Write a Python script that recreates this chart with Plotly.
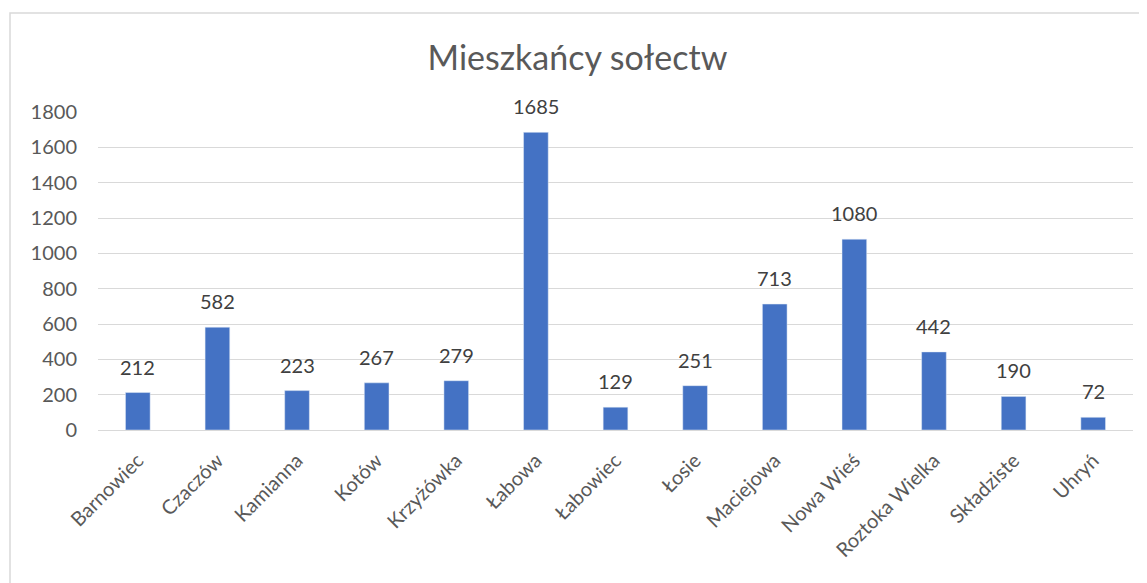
import plotly.graph_objects as go

categories = ["Barnowiec", "Czaczów", "Kamianna", "Kotów", "Krzyżówka", "Łabowa",
              "Łabowiec", "Łosie", "Maciejowa", "Nowa Wieś", "Roztoka Wielka",
              "Składziste", "Uhryń"]
values = [212, 582, 223, 267, 279, 1685, 129, 251, 713, 1080, 442, 190, 72]
y_ticks = [0, 200, 400, 600, 800, 1000, 1200, 1400, 1600, 1800]

OFF = 8  # page body margin
W, H = 1147 - OFF, 583 - OFF
L, R, T, B = 98 - OFF, 1133 - OFF, 112 - OFF, 430 - OFF

fig = go.Figure(go.Bar(
    x=categories, y=values, marker_color="#4472C4",
))

for c, v in zip(categories, values):
    fig.add_annotation(x=c, y=v, text=str(v), showarrow=False,
                       yanchor="middle", yshift=26,
                       font=dict(size=20, color="#404040", family="Lato"))

def px(x):
    return (x - OFF - L) / (R - L)

def py(y):
    return (B - (y - OFF)) / (B - T)

fig.update_layout(
    width=W, height=H,
    margin=dict(l=L, r=W - R, t=T, b=H - B, pad=0),
    paper_bgcolor="white", plot_bgcolor="white",
    font=dict(family="Lato", color="#595959"),
    title=dict(text="Mieszkańcy sołectw", x=0.5, xanchor="center",
               y=1 - (58 - OFF) / H, yanchor="middle",
               font=dict(size=34, color="#595959", family="Lato")),
    bargap=0.69, showlegend=False,
    xaxis=dict(tickangle=-45, tickfont=dict(size=20, color="#595959"),
               showline=True, linecolor="#D9D9D9", linewidth=1, ticks="",
               showgrid=False, ticklabelstandoff=10),
    yaxis=dict(range=[0, 1800], tickvals=y_ticks, showgrid=True,
               gridcolor="#D9D9D9", gridwidth=1, zeroline=False,
               tickfont=dict(size=20, color="#595959"), ticks="",
               ticklabelstandoff=20),
    shapes=[dict(type="rect", xref="paper", yref="paper",
                 x0=px(10), x1=px(1146), y0=py(600), y1=py(13),
                 line=dict(color="#D9D9D9", width=1.5), fillcolor="rgba(0,0,0,0)",
                 layer="below")],
)
fig.write_html("out.html")
